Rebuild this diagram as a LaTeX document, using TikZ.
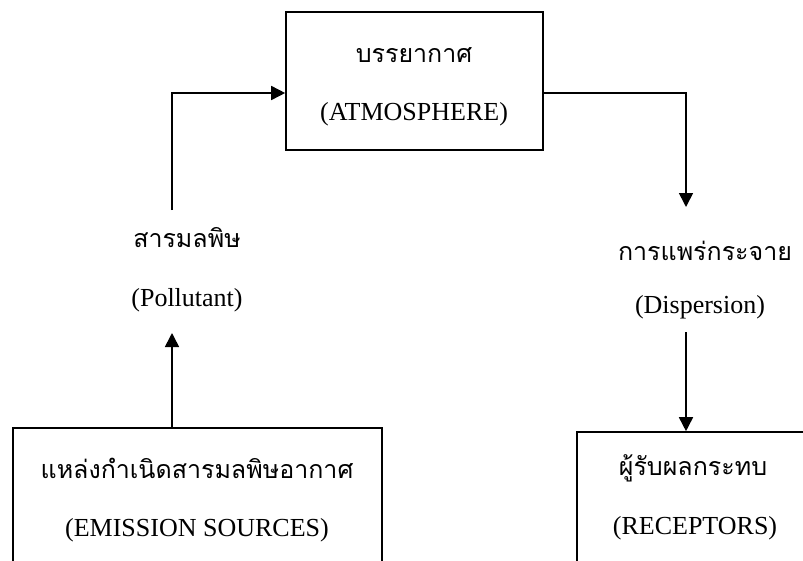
\documentclass[tikz,border=0pt]{standalone}
\usepackage{fontspec}
\setmainfont{Liberation Serif}
\newfontfamily\thaifont[Script=Thai]{Loma}
\usetikzlibrary{arrows.meta,positioning}

\begin{document}
\begin{tikzpicture}[x=1pt,y=-1pt,
  box/.style={draw,line width=1.6pt,inner sep=0pt},
  thai/.style={font=\thaifont\fontsize{25}{30}\selectfont,inner sep=0pt},
  eng/.style={font=\fontsize{26}{30}\selectfont,inner sep=0pt},
  arr/.style={line width=1.6pt,-{Triangle[length=14pt,width=14pt]}}]
\useasboundingbox (0,0) rectangle (803,560);
\clip (0,0) rectangle (803,560);

% Atmosphere box
\node[box,minimum width=257pt,minimum height=138pt] (atm) at (414.5,81) {};
\node[thai] (atmTh) at (414,55) {บรรยากาศ};
\node[eng] (atmEn) at (414,114) {(ATMOSPHERE)};

% Emission sources box
\node[box,minimum width=369pt,minimum height=172pt] (emis) at (197.5,514) {};
\node[thai] (emisTh) at (197,468) {แหล่งกำเนิดสารมลพิษอากาศ};
\node[eng] (emisEn) at (197,530) {(EMISSION SOURCES)};

% Receptors box
\node[box,minimum width=253pt,minimum height=168pt] (recp) at (703.5,516) {};
\node[thai] (recpTh) at (693,468) {ผู้รับผลกระทบ};
\node[eng] (recpEn) at (695,528) {(RECEPTORS)};

% Pollutant
\node[thai] (pollTh) at (187,238) {สารมลพิษ};
\node[eng] (pollEn) at (187,300) {(Pollutant)};

% Dispersion
\node[thai] (dispTh) at (705,251) {การแพร่กระจาย};
\node[eng] (dispEn) at (700,307) {(Dispersion)};

% Connections
\coordinate (pup) at (172,333);
\coordinate (pdn) at (172,210);
\coordinate (lvl) at (0,93);
\coordinate (ddn) at (686,207);
\coordinate (dup) at (686,332);
\draw[arr] (emis.north -| pup) -- (pup);
\draw[arr] (pdn) |- (atm.west |- lvl);
\draw[arr] (atm.east |- lvl) -| (ddn);
\draw[arr] (dup) -- (recp.north -| dup);
\end{tikzpicture}
\end{document}
